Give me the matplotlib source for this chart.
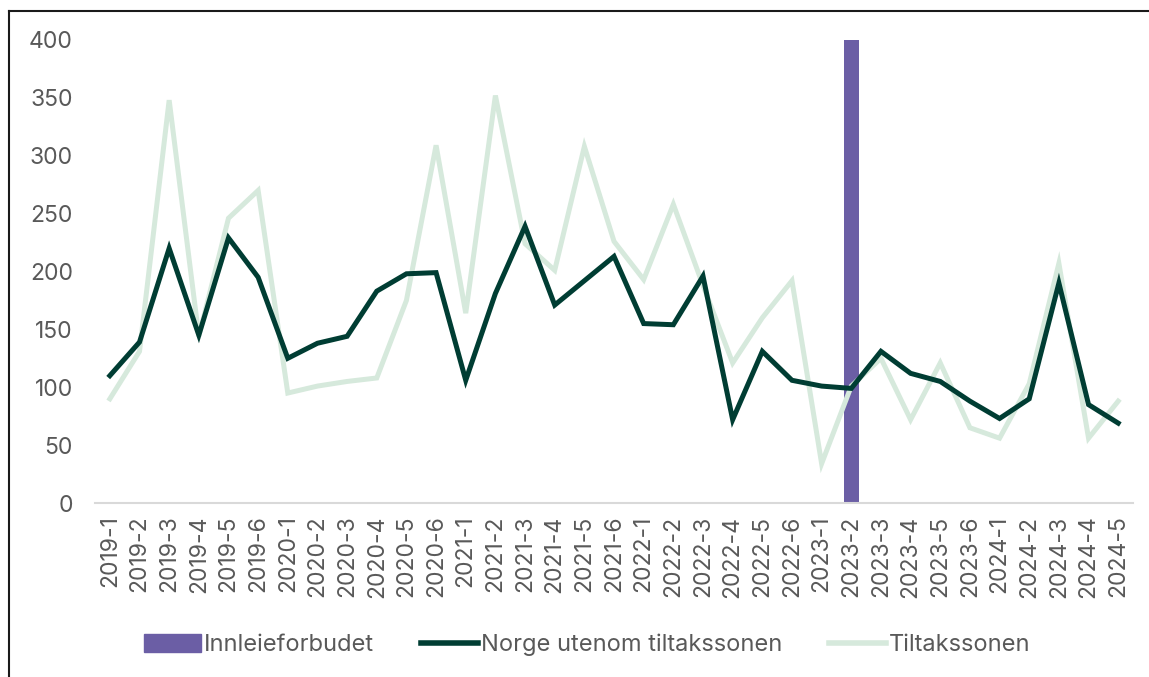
import matplotlib.pyplot as plt
from matplotlib.lines import Line2D

plt.rcParams['font.family'] = ['Inter', 'DejaVu Sans']

# kvartal/periode-etiketter
perioder = ['2019-1', '2019-2', '2019-3', '2019-4', '2019-5', '2019-6',
            '2020-1', '2020-2', '2020-3', '2020-4', '2020-5', '2020-6',
            '2021-1', '2021-2', '2021-3', '2021-4', '2021-5', '2021-6',
            '2022-1', '2022-2', '2022-3', '2022-4', '2022-5', '2022-6',
            '2023-1', '2023-2', '2023-3', '2023-4', '2023-5', '2023-6',
            '2024-1', '2024-2', '2024-3', '2024-4', '2024-5']

norge = [110, 139, 220, 145, 229, 195, 125, 138, 144, 183, 198, 199,
         106, 181, 239, 171, 192, 213, 155, 154, 196, 72, 131, 106,
         101, 99, 131, 112, 105, 88, 73, 90, 190, 85, 69]

tiltak = [90, 131, 348, 144, 246, 270, 95, 101, 105, 108, 175, 309,
          164, 352, 224, 201, 308, 226, 193, 258, 188, 121, 160, 192,
          34, 101, 125, 72, 121, 65, 56, 103, 207, 56, 88]

# innleieforbudet markeres som en søyle i 2023-2
forbud_periode = '2023-2'
forbud_verdi = 400

fig = plt.figure(figsize=(11.49, 6.77), dpi=100)
ax = fig.add_axes([0.0827, 0.257, 0.9034, 0.684])

x = list(range(len(perioder)))
ax.bar(perioder.index(forbud_periode), forbud_verdi, width=0.5, color='#6b5ea5', zorder=1)
ax.plot(x, tiltak, color='#d6e9dc', linewidth=3.6, solid_joinstyle='miter', zorder=2)
ax.plot(x, norge, color='#003d33', linewidth=3.6, solid_joinstyle='miter', zorder=3)

ax.set_xlim(-0.5, len(perioder) - 0.5)
ax.set_ylim(0, 400)
ax.set_yticks(range(0, 401, 50))
ax.set_xticks(x)
ax.set_xticklabels(perioder, rotation=90)

for s in ['top', 'right', 'left']:
    ax.spines[s].set_visible(False)
ax.spines['bottom'].set_color('#d9d9d9')
ax.spines['bottom'].set_linewidth(1.5)
ax.tick_params(axis='both', length=0, labelsize=16.5, colors='#595959')
ax.tick_params(axis='y', pad=16)
ax.tick_params(axis='x', pad=9)

handles = [
    plt.Rectangle((0, 0), 1, 1, color='#6b5ea5'),
    Line2D([0], [0], color='#003d33', linewidth=4),
    Line2D([0], [0], color='#d6e9dc', linewidth=4),
]
labels = ['Innleieforbudet', 'Norge utenom tiltakssonen', 'Tiltakssonen']
fig.legend(handles, labels, loc='center', bbox_to_anchor=(0.511, 0.047), ncol=3,
           frameon=False, fontsize=17, labelcolor='#595959',
           handlelength=2.4, handleheight=0.8, handletextpad=0.13, columnspacing=2.0)

# rammen fra skjermbildet (topp og venstre)
fig.add_artist(Line2D([0.008, 1.0], [0.984, 0.984], color='#1a1a1a', linewidth=1.5, transform=fig.transFigure))
fig.add_artist(Line2D([0.008, 0.008], [0.0, 0.984], color='#1a1a1a', linewidth=1.5, transform=fig.transFigure))

plt.savefig('out.png', dpi=100)
